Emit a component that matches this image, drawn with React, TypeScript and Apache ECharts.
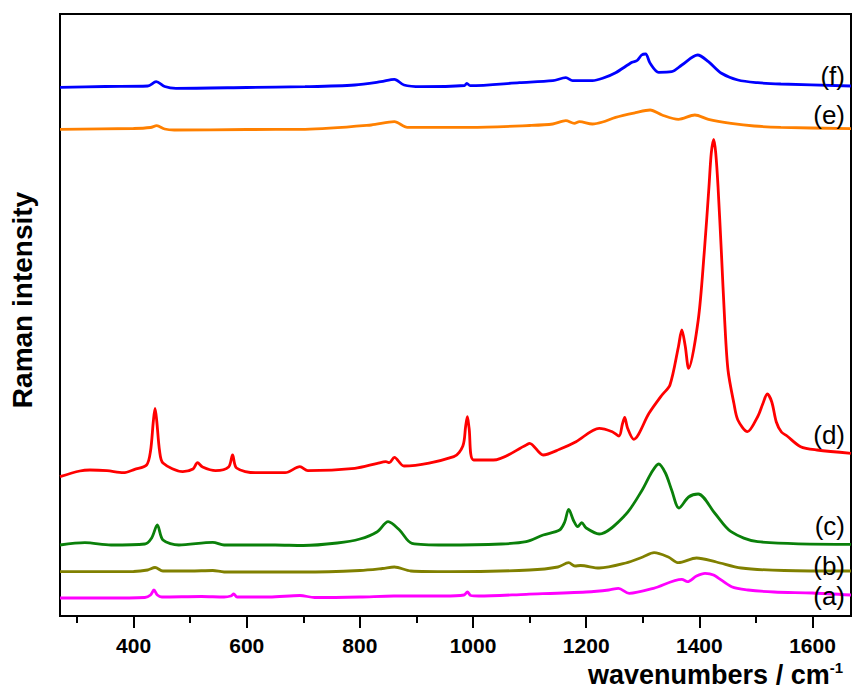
import React, { useEffect, useRef } from "react";
import * as echarts from "echarts";

const FONT = '"Liberation Sans", Arial, sans-serif';

const xTickValues = [400, 600, 800, 1000, 1200, 1400, 1600];
const seriesNames = ["(a)", "(b)", "(c)", "(d)", "(e)", "(f)"];

const waveA = [270, 350, 420, 430, 436, 442, 450, 520, 560, 572, 577, 583, 640, 694, 720, 800, 860, 948, 984, 990, 996, 1010, 1094, 1200, 1240, 1257, 1276, 1319, 1369, 1379, 1395, 1410, 1425, 1457, 1486, 1532, 1600, 1668];
const intA = [18, 18, 18.5, 21, 26, 21, 19, 19.5, 19, 20, 22, 19, 19, 20.5, 18.5, 19, 20, 20, 21, 24, 20.5, 20, 21.7, 24, 26, 27.7, 22.7, 27.7, 36.7, 34.3, 40, 42.7, 41, 29.3, 26, 24, 23, 21];

const waveB = [270, 400, 425, 438, 452, 500, 540, 560, 700, 800, 840, 861, 890, 960, 1100, 1150, 1169, 1180, 1190, 1223, 1270, 1300, 1320, 1345, 1363, 1395, 1430, 1474, 1550, 1668];
const intB = [44.3, 44.5, 46, 48.5, 45, 45, 45.5, 44, 44, 45.5, 47.5, 49, 45, 44.3, 46, 49, 53.3, 50, 50.5, 48, 53, 59, 63.3, 59, 53.3, 58, 54, 48, 45.5, 45];

const waveC = [270, 314, 360, 420, 432, 442, 452, 480, 540, 560, 650, 700, 760, 800, 830, 850, 870, 892, 950, 1050, 1094, 1124, 1153, 1162, 1169, 1178, 1185, 1192, 1200, 1223, 1269, 1299, 1315, 1328, 1340, 1351, 1364, 1381, 1398, 1427, 1456, 1503, 1668];
const intC = [71, 73.3, 71, 72, 78, 91, 76, 71, 73.7, 71, 71, 70.5, 73, 77, 84, 94.3, 86, 72.7, 71, 72, 74.3, 81, 86, 94, 106.7, 95, 89.3, 93.3, 88, 82, 101, 126, 143, 152, 143, 126, 108, 119, 122, 103, 84.3, 74.3, 71.7];

const waveD = [270, 305, 323, 353, 382, 402, 423, 430, 435, 438, 441, 446, 452, 487, 505, 513, 522, 545, 568, 575, 582, 615, 668, 694, 708, 791, 831, 846, 852, 861, 878, 966, 982, 987, 990, 993, 1001, 1036, 1094, 1100, 1124, 1153, 1182, 1223, 1246, 1258, 1264, 1268, 1273, 1284, 1311, 1334, 1348, 1363, 1369, 1375, 1381, 1398, 1408.5, 1417, 1421, 1425.4, 1429, 1433, 1439, 1444.7, 1450.6, 1461, 1468, 1485, 1503, 1512, 1520, 1528, 1536, 1545, 1555, 1579, 1608, 1668];
const intD = [139.3, 145, 146, 145.3, 143.3, 146.7, 151, 165, 195, 207.7, 195, 165, 153, 144.3, 147, 153.3, 149, 145.3, 149, 161, 148, 143.3, 143.3, 149.3, 145.3, 147.7, 152.7, 154.3, 153.3, 158.7, 150, 159.3, 170, 190, 199.3, 188, 156, 156, 171, 172.7, 161, 166.7, 174.3, 187.7, 184.3, 180, 192, 198.7, 188, 176.7, 202.7, 221, 231, 269.3, 286, 270, 247.7, 296, 362.7, 429.3, 462.7, 476.7, 462.7, 429.3, 362.7, 296, 246, 212.7, 196, 184.3, 199.3, 212, 222, 214, 194, 184, 180, 169.3, 166, 162.7];

const waveE = [270, 400, 430, 441, 455, 472, 600, 703, 820, 861, 884, 995, 1100, 1141, 1164, 1179, 1188, 1211, 1229, 1252, 1287, 1313, 1334, 1363, 1392, 1416, 1456, 1497, 1544, 1668];
const intE = [486.7, 487.5, 488.5, 490.3, 487, 486, 486.5, 486.7, 491, 494.3, 488.7, 488.7, 490.5, 492, 495.3, 492.7, 494.3, 492, 494, 498.7, 503.3, 506, 501, 496.7, 501, 496.7, 492.7, 490, 488.7, 487.3];

const waveF = [270, 350, 425, 440, 455, 475, 600, 703, 791, 837, 861, 878, 908, 985, 989, 995, 1082, 1141, 1164, 1176, 1211, 1229, 1252, 1281, 1290, 1298, 1305, 1313, 1328, 1351, 1369, 1397, 1416, 1439, 1468, 1503, 1544, 1668];
const intF = [528.7, 529.5, 530, 534.3, 529.5, 527.7, 528.5, 529.3, 531, 534.3, 536.7, 531, 529.3, 530.5, 532.7, 530.3, 533.3, 535.3, 538.3, 535.3, 535.3, 537.7, 543.3, 553.7, 555.5, 561, 562, 552.7, 543.7, 544.3, 551, 561, 554.3, 542.7, 536, 533.3, 532, 530];

const waves = [waveA, waveB, waveC, waveD, waveE, waveF];
const ints = [intA, intB, intC, intD, intE, intF];
const colors = ["#ff00ff", "#808000", "#0a800a", "#ff0000", "#ff8000", "#0000ff"];
const labelCenters = [597, 567, 527, 436, 116, 77];

const pairs = (w: number[], v: number[]) => w.map((x, i) => [x, v[i]]);

export default function App() {
  const ref = useRef<HTMLDivElement>(null);
  useEffect(() => {
    if (!ref.current) return;
    const chart = echarts.init(ref.current, null, { renderer: "svg" });
    chart.setOption({
      animation: false,
      backgroundColor: "#ffffff",
      grid: {
        left: 52,
        right: 3,
        top: 14,
        bottom: 84,
        show: true,
        borderColor: "#000",
        borderWidth: 2,
        backgroundColor: "transparent",
      },
      xAxis: {
        type: "value",
        min: 270,
        max: 1668,
        splitNumber: 7,
        name: "{n|wavenumbers / cm}{s|-1}",
        nameLocation: "end",
        nameGap: -8,
        nameTextStyle: {
          align: "right",
          verticalAlign: "top",
          padding: [44, 0, 0, 0],
          rich: {
            n: { fontFamily: FONT, fontWeight: "bold", fontSize: 27, color: "#000" },
            s: { fontFamily: FONT, fontWeight: "bold", fontSize: 15, color: "#000", verticalAlign: "top", padding: [0, 0, 14, 0] },
          },
        },
        axisLine: { show: true, lineStyle: { color: "#000", width: 2 } },
        axisTick: { show: true, length: 12, lineStyle: { color: "#000", width: 2 }, customValues: xTickValues },
        minorTick: { show: true, splitNumber: 2, length: 7, lineStyle: { color: "#000", width: 2 } },
        axisLabel: {
          customValues: xTickValues,
          formatter: (v: number) => String(v),
          margin: 19,
          fontFamily: FONT,
          fontWeight: "bold",
          fontSize: 21,
          color: "#000",
        },
        splitLine: { show: false },
      },
      yAxis: {
        type: "value",
        min: 0,
        max: 602,
        name: "Raman intensity",
        nameLocation: "middle",
        nameRotate: 90,
        nameGap: 24,
        nameTextStyle: {
          fontFamily: FONT,
          fontWeight: "bold",
          fontSize: 28,
          color: "#000",
          padding: [0, 0, 0, 30],
        },
        axisLine: { show: true, lineStyle: { color: "#000", width: 2 } },
        axisTick: { show: false },
        axisLabel: { show: false },
        splitLine: { show: false },
      },
      graphic: seriesNames.map((nm, i) => ({
        type: "text",
        right: 9,
        top: labelCenters[i] - 14,
        z: 10,
        style: {
          text: nm,
          fontFamily: FONT,
          fontSize: 26,
          fill: "#000",
        },
      })),
      series: seriesNames.map((nm, i) => ({
        name: nm,
        type: "line",
        data: pairs(waves[i], ints[i]),
        showSymbol: false,
        symbol: "none",
        smooth: 0.3,
        color: colors[i],
        lineStyle: { width: 2.8, color: colors[i] },
        z: 3,
      })),
    });
    return () => chart.dispose();
  }, []);
  return (
    <div
      ref={ref}
      style={{ position: "fixed", left: 0, top: 0, width: 854, height: 700, background: "#fff" }}
    />
  );
}
